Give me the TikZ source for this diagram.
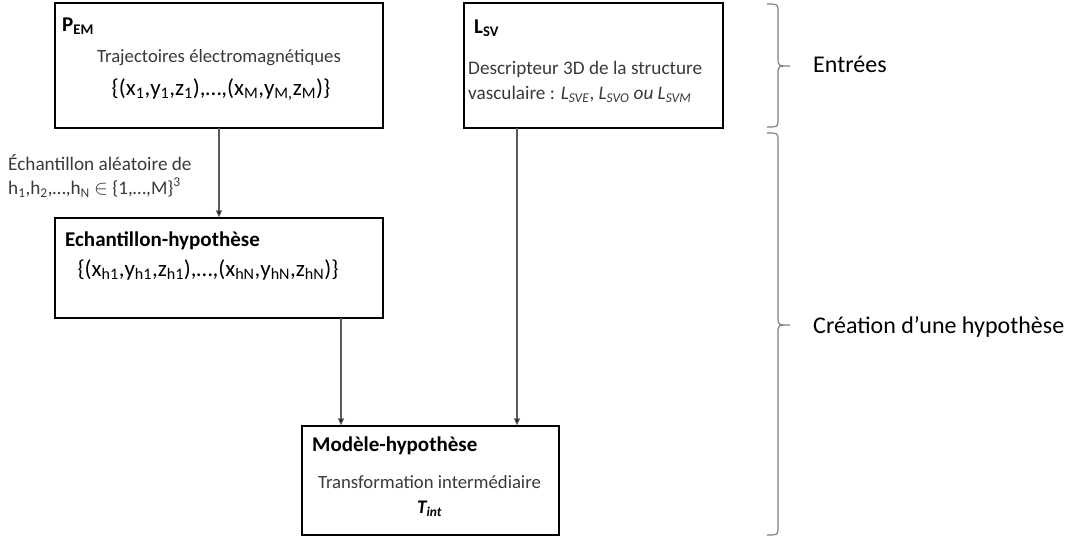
\documentclass[tikz,border=0pt]{standalone}
\usepackage{fontspec}
\setmainfont{Carlito}
\usetikzlibrary{arrows.meta}
\definecolor{txt}{HTML}{3A3A3A}
\definecolor{ln}{HTML}{5A5A5A}
\definecolor{br}{HTML}{808080}
\tikzset{
  box/.style={draw=black, line width=1.2pt, fill=white, inner sep=0pt},
  ttl/.style={font=\fontsize{21}{24}\selectfont\bfseries, text=black, inner sep=0pt, anchor=base west},
  body/.style={font=\fontsize{19.2}{24}\selectfont, text=txt, inner sep=0pt, anchor=base},
  setl/.style={font=\fontsize{23}{27}\selectfont, text=black, inner sep=0pt, anchor=base},
  conn/.style={draw=ln, line width=1.2pt, -{Triangle[length=7pt,width=6pt,fill=black]}},
  brace/.style={draw=br, line width=1.2pt},
  side/.style={font=\fontsize{24}{28}\selectfont, text=black, inner sep=0pt, anchor=base west}
}
\begin{document}
\begin{tikzpicture}[x=1pt,y=-1pt]
\useasboundingbox (0,0) rectangle (1070,539);
% boxes
\node[box, minimum width=328, minimum height=125] (pem) at (219,65.5) {};
\node[box, minimum width=259, minimum height=125] (lsv) at (593.5,65.5) {};
\node[box, minimum width=328, minimum height=100] (ech) at (219,268) {};
\node[box, minimum width=257, minimum height=109] (mod) at (430.5,480.5) {};
% PEM texts
\node[ttl] (pemt) at (62,31) {P\textsubscript{EM}};
\node[body, font=\fontsize{18.7}{24}\selectfont] (pemb) at (219,62) {Trajectoires électromagnétiques};
\node[setl] (pems) at (221,95) {\{(x\textsubscript{1},y\textsubscript{1},z\textsubscript{1}),…,(x\textsubscript{M},y\textsubscript{M,}z\textsubscript{M})\}};
% LSV texts
\node[ttl] (lsvt) at (474,33) {L\textsubscript{SV}};
\node[body, anchor=base west] (lsvb1) at (468,74) {Descripteur 3D de la structure};
\node[body, anchor=base west] (lsvb2) at (468,99) {vasculaire : \textit{L}\textsubscript{\textit{SVE}}, \textit{L}\textsubscript{\textit{SVO}} \textit{ou L}\textsubscript{\textit{SVM}}};
% sample label
\node[body, anchor=base west] (lab1) at (8,170) {Échantillon aléatoire de};
\node[body, anchor=base west] (lab2) at (8,194) {h\textsubscript{1},h\textsubscript{2},…,h\textsubscript{N} $\in$ \{1,…,M\}\textsuperscript{3}};
% Echantillon texts
\node[ttl] (echt) at (65,246) {Echantillon-hypothèse};
\node[setl] (echs) at (208,276) {\{(x\textsubscript{h1},y\textsubscript{h1},z\textsubscript{h1}),…,(x\textsubscript{hN},y\textsubscript{hN},z\textsubscript{hN})\}};
% Modele texts
\node[ttl] (modt) at (312,451) {Modèle-hypothèse};
\node[body, font=\fontsize{18.7}{24}\selectfont] (modb) at (429.5,488) {Transformation intermédiaire};
\node[body, font=\fontsize{19.2}{24}\selectfont\bfseries\itshape, text=black] (modT) at (429.5,513) {T\textsubscript{int}};
% connectors
\coordinate (a1) at (219,128);
\coordinate (a2) at (517,128);
\coordinate (a3) at (341,318);
\draw[conn] (a1) -- (a1 |- ech.north);
\draw[conn] (a2) -- (a2 |- mod.north);
\draw[conn] (a3) -- (a3 |- mod.north);
% braces
\draw[brace] (767,4) .. controls (778,4) .. (778,12) -- (778,58) .. controls (778,66) .. (790,66)
             .. controls (778,66) .. (778,74) -- (778,119) .. controls (778,127) .. (767,127);
\draw[brace] (767,133) .. controls (778,133) .. (778,141) -- (778,317) .. controls (778,325) .. (790,325)
             .. controls (778,325) .. (778,333) -- (778,527) .. controls (778,535) .. (767,535);
\node[side] (entrees) at (813,72) {Entrées};
\node[side] (creation) at (813,333) {Création d’une hypothèse};
\end{tikzpicture}
\end{document}
